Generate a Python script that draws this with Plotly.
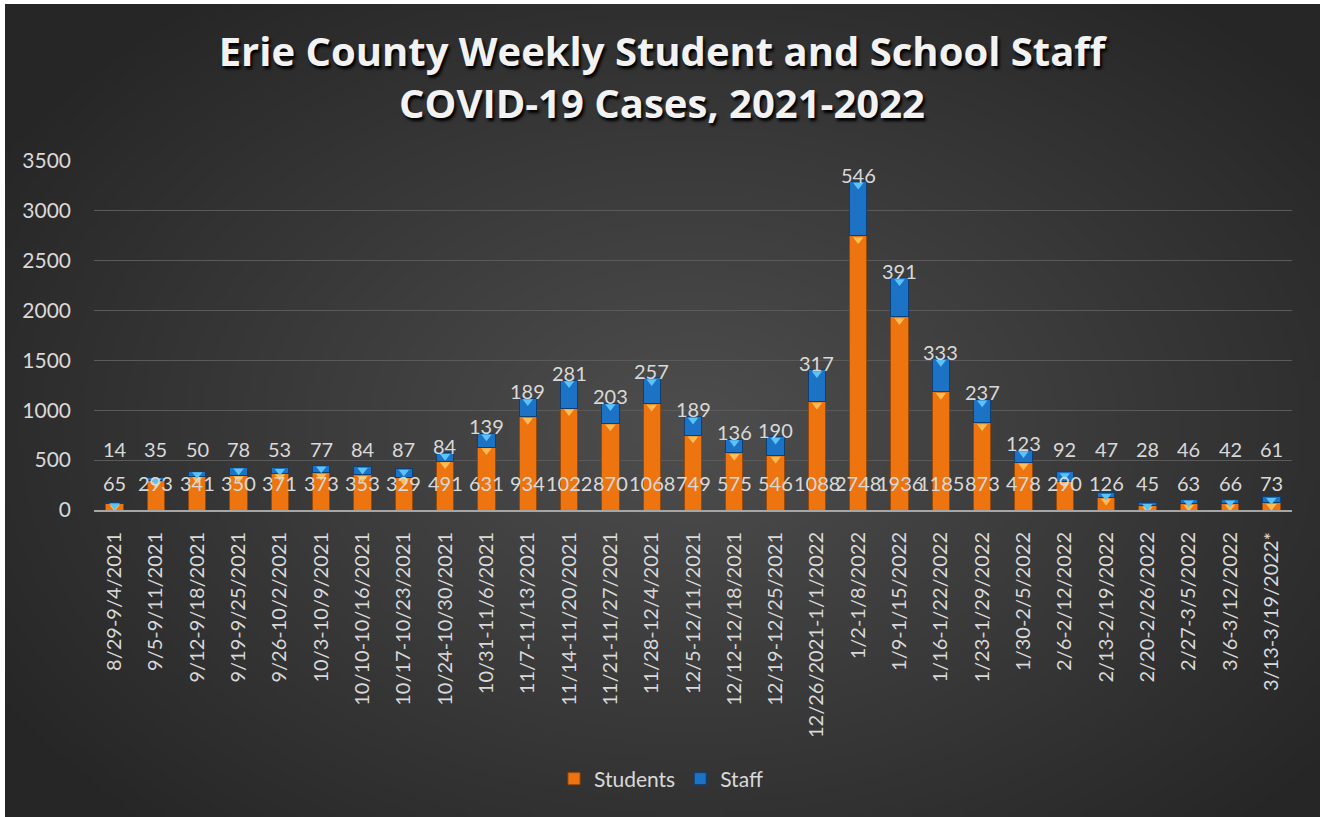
import base64, struct, zlib
import numpy as np
import plotly.graph_objects as go

weeks = ["8/29-9/4/2021", "9/5-9/11/2021", "9/12-9/18/2021", "9/19-9/25/2021", "9/26-10/2/2021",
         "10/3-10/9/2021", "10/10-10/16/2021", "10/17-10/23/2021", "10/24-10/30/2021", "10/31-11/6/2021",
         "11/7-11/13/2021", "11/14-11/20/2021", "11/21-11/27/2021", "11/28-12/4/2021", "12/5-12/11/2021",
         "12/12-12/18/2021", "12/19-12/25/2021", "12/26/2021-1/1/2022", "1/2-1/8/2022", "1/9-1/15/2022",
         "1/16-1/22/2022", "1/23-1/29/2022", "1/30-2/5/2022", "2/6-2/12/2022", "2/13-2/19/2022",
         "2/20-2/26/2022", "2/27-3/5/2022", "3/6-3/12/2022", "3/13-3/19/2022*"]
students = [65, 293, 341, 350, 371, 373, 353, 329, 491, 631, 934, 1022, 870, 1068, 749, 575, 546,
            1088, 2748, 1936, 1185, 873, 478, 290, 126, 45, 63, 66, 73]
staff = [14, 35, 50, 78, 53, 77, 84, 87, 84, 139, 189, 281, 203, 257, 189, 136, 190, 317, 546, 391,
         333, 237, 123, 92, 47, 28, 46, 42, 61]
y_ticks = [0, 500, 1000, 1500, 2000, 2500, 3000, 3500]

W, H = 1320, 817
ML, MR, MT, MB = 94, 28, 161, 307
PW, PH = W - ML - MR, H - MT - MB
YMAX = 3500
px_per_unit = PH / YMAX
FONT = "Lato, 'Open Sans', sans-serif"


def gradient_png(w, h):
    yy, xx = np.mgrid[0:h, 0:w].astype(float)
    cx, cy = w * 0.52, h * 0.52
    t = np.sqrt(((xx - cx) / (w * 0.62)) ** 2 + ((yy - cy) / (h * 0.68)) ** 2)
    t = np.clip(t, 0, 1)
    c0 = np.array([78, 78, 78], float)
    c1 = np.array([38, 38, 38], float)
    img = c0[None, None, :] + (c1 - c0)[None, None, :] * t[..., None]
    img = img.astype(np.uint8)
    raw = b"".join(b"\x00" + img[r].tobytes() for r in range(h))

    def chunk(tag, data):
        c = tag + data
        return struct.pack(">I", len(data)) + c + struct.pack(">I", zlib.crc32(c) & 0xffffffff)

    png = b"\x89PNG\r\n\x1a\n" + chunk(b"IHDR", struct.pack(">IIBBBBB", w, h, 8, 2, 0, 0, 0))
    png += chunk(b"IDAT", zlib.compress(raw, 9)) + chunk(b"IEND", b"")
    return "data:image/png;base64," + base64.b64encode(png).decode()


bg = gradient_png(330, 204)

totals = [s + f for s, f in zip(students, staff)]
label_font = dict(family=FONT, size=20, color="#d9d9d9")

fig = go.Figure()
fig.add_trace(go.Bar(
    x=weeks, y=students, name="Students",
    marker=dict(color="#EE7410", line=dict(color="#9a4a08", width=1)),
    hoverinfo="y"))
fig.add_trace(go.Bar(
    x=weeks, y=staff, name="Staff",
    marker=dict(color="#1C73C6", line=dict(color="#0e3f70", width=1)),
    hoverinfo="y"))

# bevel triangles on top of each segment
off = 3.5 / px_per_unit
fig.add_trace(go.Scatter(
    x=weeks, y=[s - off for s in students], mode="markers", showlegend=False, hoverinfo="skip",
    marker=dict(symbol="triangle-down", size=9, color="#FFBE55", line=dict(width=0))))
fig.add_trace(go.Scatter(
    x=weeks, y=[t - off for t in totals], mode="markers", showlegend=False, hoverinfo="skip",
    marker=dict(symbol="triangle-down", size=9, color="#5CC3F7", line=dict(width=0))))

annotations = []
for wk, s, t, f in zip(weeks, students, totals, staff):
    annotations.append(dict(x=wk, y=0, yanchor="bottom", yshift=13, text=str(s),
                            showarrow=False, font=label_font))
    annotations.append(dict(x=wk, y=max(t + 70, 610), yanchor="middle", text=str(f),
                            showarrow=False, font=label_font))

fig.update_layout(
    width=W, height=H,
    margin=dict(l=ML, r=MR, t=MT, b=MB),
    paper_bgcolor="#ffffff",
    plot_bgcolor="rgba(0,0,0,0)",
    barmode="stack",
    bargap=0.58,
    title=dict(
        text="Erie County Weekly Student and School Staff<br>COVID-19 Cases, 2021-2022",
        x=(662 - ML) / PW, xanchor="center", xref="paper", y=1 - 66 / H, yanchor="middle",
        font=dict(family="'Open Sans', Lato, sans-serif", size=40, color="#f2f2f2", weight="bold",
                  shadow="2px 3px 3px #000000")),
    images=[dict(source=bg, xref="paper", yref="paper",
                 x=(5 - ML) / PW, y=(H - 4 - MB) / PH,
                 sizex=(W - 5) / PW, sizey=(H - 4) / PH,
                 xanchor="left", yanchor="top", sizing="stretch", layer="below")],
    xaxis=dict(
        tickangle=-90, tickfont=dict(family=FONT, size=20, color="#d9d9d9"),
        showgrid=False, showline=True, linecolor="#a6a6a6", linewidth=2,
        ticks="", ticklabelstandoff=12, range=[-0.5, len(weeks) - 0.5]),
    yaxis=dict(
        range=[0, YMAX], tickvals=y_ticks,
        tickfont=dict(family=FONT, size=21, color="#d9d9d9"),
        showgrid=True, gridcolor="#5a5a5a", gridwidth=1, zeroline=False,
        ticks="", ticklabelstandoff=22),
    legend=dict(orientation="h", x=(661 - ML) / PW, xanchor="center", y=-(779 - 510) / PH,
                yanchor="middle", font=dict(family=FONT, size=21, color="#d9d9d9"),
                bgcolor="rgba(0,0,0,0)", traceorder="normal", itemwidth=30),
    annotations=annotations,
    showlegend=True,
)

fig.write_html("out.html", config={"displayModeBar": False},
               post_script="document.body.style.margin='0px';document.body.style.padding='0px';")
